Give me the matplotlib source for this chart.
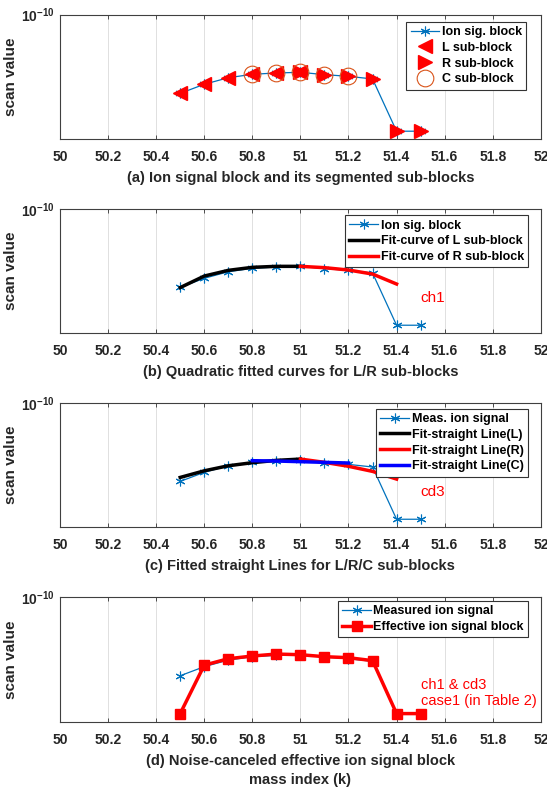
import matplotlib
matplotlib.use('Agg')
import matplotlib.pyplot as plt
from matplotlib.ticker import NullLocator
import numpy as np

plt.rcParams['font.family'] = ['Liberation Sans', 'DejaVu Sans']
plt.rcParams['mathtext.fontset'] = 'custom'
plt.rcParams['mathtext.bf'] = 'Liberation Sans:bold'
plt.rcParams['mathtext.rm'] = 'Liberation Sans'

# data
mass = [50.5, 50.6, 50.7, 50.8, 50.9, 51.0, 51.1, 51.2, 51.3, 51.4, 51.5]
meas = [3.62e-11, 4.07e-11, 4.43e-11, 4.63e-11, 4.71e-11, 4.75e-11,
        4.61e-11, 4.51e-11, 4.36e-11, 2.22e-11, 2.22e-11]

mass_L = [50.5, 50.6, 50.7, 50.8, 50.9, 51.0]
mass_R = [51.0, 51.1, 51.2, 51.3, 51.4, 51.5]
mass_C = [50.8, 50.9, 51.0, 51.1, 51.2]
sub_L = [3.62e-11, 4.07e-11, 4.43e-11, 4.63e-11, 4.71e-11, 4.75e-11]
sub_R = [4.75e-11, 4.61e-11, 4.51e-11, 4.36e-11, 2.22e-11, 2.22e-11]
sub_C = [4.63e-11, 4.71e-11, 4.75e-11, 4.61e-11, 4.51e-11]

# (b) quadratic fitted curves
fitc_xL = [50.5, 50.6, 50.7, 50.8, 50.9, 51.0]
fitc_L = [3.61e-11, 4.19e-11, 4.51e-11, 4.69e-11, 4.75e-11, 4.75e-11]
fitc_xR = [51.0, 51.1, 51.2, 51.3, 51.4]
fitc_R = [4.75e-11, 4.67e-11, 4.53e-11, 4.30e-11, 3.78e-11]

# (c) fitted straight lines
fitl_xL = [50.5, 50.6, 50.7, 50.8, 50.9, 51.0]
fitl_L = [3.81e-11, 4.15e-11, 4.43e-11, 4.61e-11, 4.75e-11, 4.83e-11]
fitl_xR = [51.0, 51.1, 51.2, 51.3, 51.4]
fitl_R = [4.83e-11, 4.63e-11, 4.40e-11, 4.12e-11, 3.73e-11]
fitl_xC = [50.8, 50.9, 51.0, 51.1, 51.2]
fitl_C = [4.73e-11, 4.71e-11, 4.67e-11, 4.63e-11, 4.59e-11]

# (d) effective block
effective = [2.22e-11, 4.15e-11, 4.51e-11, 4.67e-11, 4.79e-11, 4.75e-11,
             4.63e-11, 4.57e-11, 4.40e-11, 2.22e-11, 2.22e-11]

xticks = [50, 50.2, 50.4, 50.6, 50.8, 51, 51.2, 51.4, 51.6, 51.8, 52]
xticklabels = ['50', '50.2', '50.4', '50.6', '50.8', '51', '51.2', '51.4', '51.6', '51.8', '52']
captions = ['(a) Ion signal block and its segmented sub-blocks',
            '(b) Quadratic fitted curves for L/R sub-blocks',
            '(c) Fitted straight Lines for L/R/C sub-blocks',
            '(d) Noise-canceled effective ion signal block\nmass index (k)']

BLUE = (0, 0.447, 0.741)
ORANGE = (0.85, 0.325, 0.098)
AST = (6, 2, 0)   # asterisk marker like matlab '*'

fig = plt.figure(figsize=(5.47, 7.90), dpi=100)
bottoms = [0.8237, 0.5781, 0.3325, 0.0865]
axes = [fig.add_axes([0.1097, b, 0.879, 0.1577]) for b in bottoms]


def style_ax(ax, caption):
    ax.set_yscale('log')
    ax.set_xlim(50, 52)
    ax.set_ylim(2e-11, 1e-10)
    ax.set_xticks(xticks)
    ax.set_xticklabels(xticklabels, fontweight='bold', fontsize=10, color='0.15')
    ax.set_yticks([1e-10])
    ax.set_yticklabels([r'$\mathbf{10^{-10}}$'], fontsize=10, color='0.15')
    ax.yaxis.set_minor_locator(NullLocator())
    ax.tick_params(axis='x', direction='in', top=True, length=3, width=0.6,
                   color='0.2', pad=8)
    ax.tick_params(axis='y', direction='in', right=True, length=3, width=0.6,
                   color='0.2', pad=4)
    ax.grid(True, color='0.88', linewidth=0.7)
    ax.set_axisbelow(True)
    for s in ax.spines.values():
        s.set_color('0.25')
        s.set_linewidth(0.8)
    ax.set_ylabel('scan value', fontweight='bold', fontsize=11, color='0.15')
    ax.yaxis.set_label_coords(-0.087, 0.5)
    ax.set_xlabel(caption, fontweight='bold', fontsize=10.5, labelpad=5,
                  color='0.15', linespacing=1.45)


def add_legend(ax, anchor):
    leg = ax.legend(loc='upper right', bbox_to_anchor=anchor, borderaxespad=0,
                    prop={'weight': 'bold', 'size': 9}, fancybox=False,
                    framealpha=1, edgecolor='0.2', handlelength=2.3,
                    handletextpad=0.2, labelspacing=0.3, borderpad=0.35)
    leg.get_frame().set_linewidth(0.8)
    return leg


# (a)
ax = axes[0]
ax.plot(mass, meas, '-', marker=AST, color=BLUE, lw=0.9, ms=7, mew=0.8,
        label='Ion sig. block')
ax.plot(mass_L, sub_L, '<', color='red', ms=9.5, ls='none', label='L sub-block')
ax.plot(mass_R, sub_R, '>', color='red', ms=9.5, ls='none', label='R sub-block')
ax.plot(mass_C, sub_C, 'o', mec=ORANGE, mfc='none', ms=12, mew=0.8, ls='none',
        label='C sub-block')
style_ax(ax, captions[0])
add_legend(ax, (0.970, 0.944))

# (b)
ax = axes[1]
ax.plot(mass, meas, '-', marker=AST, color=BLUE, lw=0.9, ms=7, mew=0.8,
        label='Ion sig. block')
ax.plot(fitc_xL, fitc_L, '-', color='black', lw=2.5, label='Fit-curve of L sub-block')
ax.plot(fitc_xR, fitc_R, '-', color='red', lw=2.5, label='Fit-curve of R sub-block')
ax.text(51.5, 10 ** (-10 - 0.718 * np.log10(5)), 'ch1', color='red', fontsize=11,
        va='center', ha='left')
style_ax(ax, captions[1])
add_legend(ax, (0.974, 0.948))

# (c)
ax = axes[2]
ax.plot(mass, meas, '-', marker=AST, color=BLUE, lw=0.9, ms=7, mew=0.8,
        label='Meas. ion signal')
ax.plot(fitl_xL, fitl_L, '-', color='black', lw=2.5, label='Fit-straight Line(L)')
ax.plot(fitl_xR, fitl_R, '-', color='red', lw=2.5, label='Fit-straight Line(R)')
ax.plot(fitl_xC, fitl_C, '-', color='blue', lw=2.5, label='Fit-straight Line(C)')
ax.text(51.5, 10 ** (-10 - 0.713 * np.log10(5)), 'cd3', color='red', fontsize=11,
        va='center', ha='left')
style_ax(ax, captions[2])
add_legend(ax, (0.973, 0.952))

# (d)
ax = axes[3]
ax.plot(mass, meas, '-', marker=AST, color=BLUE, lw=0.9, ms=7, mew=0.8,
        label='Measured ion signal')
ax.plot(mass, effective, '-s', color='red', lw=2.5, ms=6.5, label='Effective ion signal block')
ax.text(51.5, 10 ** (-10 - 0.77 * np.log10(5)), 'ch1 & cd3\ncase1 (in Table 2)',
        color='red', fontsize=10.5, va='center', ha='left', linespacing=1.15)
style_ax(ax, captions[3])
add_legend(ax, (0.974, 0.97))

fig.savefig('out.png', dpi=100)
